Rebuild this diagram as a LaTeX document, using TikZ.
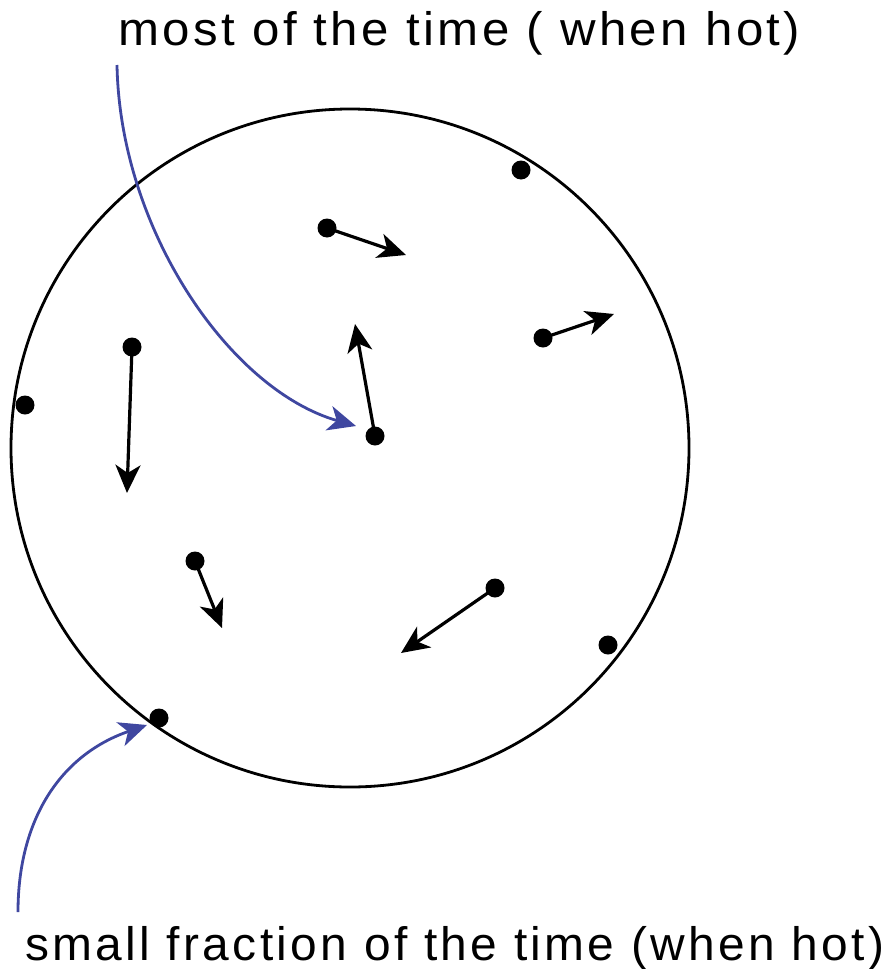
\documentclass[tikz,border=0pt]{standalone}
\usepackage{fontspec}
\setmainfont{Liberation Sans}[LetterSpace=7]
\usetikzlibrary{arrows.meta}
\definecolor{bluearr}{HTML}{3F47A0}
\begin{document}
\begin{tikzpicture}[x=1pt,y=-1pt,
  particle/.style={circle,fill=black,inner sep=0pt,minimum size=19pt},
  vel/.style={line width=3.2pt,-{Stealth[inset=8pt,length=28pt,width=25pt]}},
  pointer/.style={draw=bluearr,line width=2.8pt,-{Stealth[inset=8pt,length=28pt,width=25pt]}},
  lbl/.style={inner sep=0pt,font=\fontsize{47}{47}\selectfont}]
\useasboundingbox (0,0) rectangle (888,969);
\node[draw,circle,line width=2.8pt,minimum size=678pt,inner sep=0pt] (box) at (350,448) {};
\node[particle] (p1) at (521,170) {};
\node[particle] (p2) at (327,228) {};
\node[particle] (p3) at (543,338) {};
\node[particle] (p4) at (132,347) {};
\node[particle] (p5) at (375,436) {};
\node[particle] (p6) at (25,405) {};
\node[particle] (p7) at (195,561) {};
\node[particle] (p8) at (495,588) {};
\node[particle] (p9) at (608,645) {};
\node[particle] (p10) at (159,718) {};
\coordinate (v2) at (406,255);
\coordinate (v3) at (614,314);
\coordinate (v4) at (127,493);
\coordinate (v5) at (355,324);
\coordinate (v7) at (222,628);
\coordinate (v8) at (401,653);
\draw[vel] (p2.center) -- (v2);
\draw[vel] (p3.center) -- (v3);
\draw[vel] (p4.center) -- (v4);
\draw[vel] (p5.center) -- (v5);
\draw[vel] (p7.center) -- (v7);
\draw[vel] (p8.center) -- (v8);
\node[lbl,anchor=base west] (top) at (118,45) {\scalebox{1.047}[1]{most of the time ( when hot)}};
\node[lbl,anchor=base west] (bot) at (25,960) {\scalebox{1.019}[1]{small fraction of the time (when hot)}};
\coordinate (t1) at (117,65);
\coordinate (e1) at (356,426);
\coordinate (t2) at (18,912);
\coordinate (e2) at (147,725);
\draw[pointer] (t1) .. controls (120,230) and (230,390) .. (e1);
\draw[pointer] (t2) .. controls (18,820) and (60,755) .. (e2);
\end{tikzpicture}
\end{document}
